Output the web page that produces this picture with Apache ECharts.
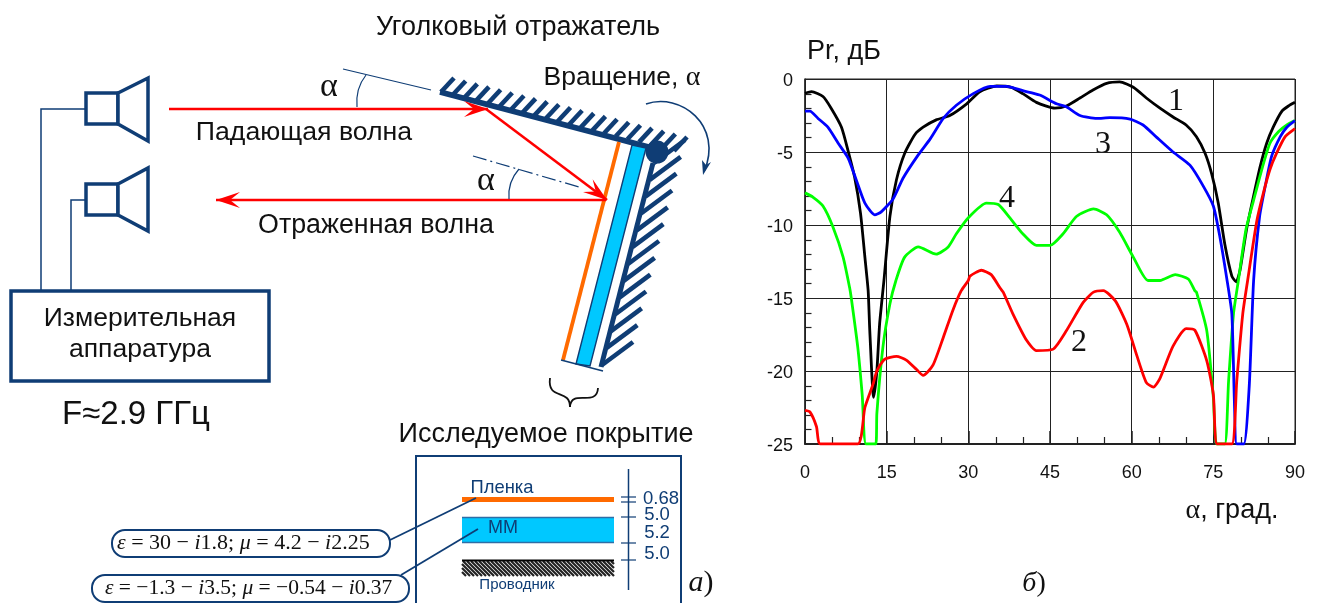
<!DOCTYPE html>
<html><head><meta charset="utf-8">
<style>html,body{margin:0;padding:0;background:#fff}#c{width:1321px;height:603px}</style>
<script src="https://cdn.jsdelivr.net/npm/echarts@6/dist/echarts.min.js"></script>
</head><body><div id="c"></div>
<script>
const xTicks=[0,15,30,45,60,75,90];
const yTicks=[0,-5,-10,-15,-20,-25];
const xMinor=[5,10,20,25,35,40,50,55,65,70,80,85];
const yMinor=[-1,-2,-3,-4,-6,-7,-8,-9,-11,-12,-13,-14,-16,-17,-18,-19,-21,-22,-23,-24];
const curve1=[[0,-0.98],[1.2,-0.87],[3.3,-1.2],[4.8,-2],[6.7,-3.3],[7.9,-4.9],[9.1,-6.7],[10.2,-9.2],[11,-12.2],[11.6,-14.5],[11.9,-17.25],[12.6,-21.8],[13.2,-20],[13.7,-16.8],[14.5,-13.8],[15.6,-9.4],[16.8,-6.9],[18.3,-5.1],[20.2,-3.8],[21.7,-3.3],[24.1,-2.8],[26.6,-2.5],[29.7,-1.7],[32.1,-0.87],[35.2,-0.48],[37.9,-0.57],[40,-1],[42.5,-1.6],[45.9,-2],[48,-1.85],[50.5,-1.3],[52.9,-0.75],[55.4,-0.3],[57.8,-0.2],[60.3,-0.57],[62.7,-1.3],[65.2,-2],[67.6,-2.6],[70,-3.15],[71.9,-3.95],[73.5,-5.1],[74.7,-6.5],[75.9,-8.5],[77.1,-11.3],[78.4,-13.5],[79.2,-13.9],[79.9,-13.1],[81.1,-10.3],[82.4,-8],[83.6,-6],[84.8,-4.4],[86,-3.3],[87.6,-2.2],[88.8,-1.85],[90,-1.6]];
const curve3=[[0,-2.2],[0.9,-2.2],[2.4,-2.7],[4.2,-3.3],[6.1,-4.4],[7.9,-5.4],[9.4,-6.9],[11,-8.5],[12.8,-9.3],[14,-9.1],[16.2,-8.2],[18,-6.8],[20.8,-5.2],[23,-4.1],[25.4,-2.7],[27.8,-1.8],[30.9,-1],[34,-0.5],[37,-0.5],[40,-0.8],[43.1,-1.1],[46.2,-1.7],[48,-1.9],[50.5,-2.5],[53.6,-2.7],[56,-2.65],[59.7,-2.75],[62.1,-3.15],[64.6,-4],[67.6,-5],[70.7,-5.9],[73.1,-7.3],[75,-8.7],[76.2,-10.8],[77.4,-13.5],[78.4,-16.1],[79.3,-25],[80.6,-25],[81.6,-21],[82.4,-13.8],[83.5,-9.4],[84.5,-7.4],[85.7,-5.3],[87.3,-3.95],[88.5,-3.3],[90,-2.85]];
const curve4=[[0,-7.8],[1.5,-8.1],[3.3,-8.7],[5.1,-10.1],[7,-12.2],[8.2,-14.3],[8.5,-15],[9.7,-18.4],[10.5,-21.6],[11.2,-25],[13,-25],[13.2,-22.9],[14.3,-18.4],[15.6,-15.4],[16.7,-13.8],[18.3,-12.2],[20.8,-11.5],[24.1,-12],[26.3,-11.5],[27.8,-10.6],[30,-9.5],[33.3,-8.5],[35.5,-8.6],[37.6,-9.5],[40,-10.6],[42.5,-11.4],[45,-11.4],[47.4,-10.6],[49.9,-9.4],[53,-8.9],[55.4,-9.3],[57.8,-10.5],[60.3,-12.2],[63,-13.8],[65.2,-13.8],[68,-13.4],[70.4,-13.7],[71.6,-14.5],[71.9,-14.6],[73.8,-17.25],[75,-21.8],[75.6,-25],[77.1,-25],[77.8,-20.7],[78.7,-16.1],[79.6,-13.8],[81,-10.3],[82.4,-8.3],[83.9,-6.2],[85.4,-4.4],[87,-3.6],[88.5,-3.15],[90,-2.85]];
const curve2=[[0,-22.7],[0.9,-22.8],[2.1,-23.8],[2.8,-25],[9.7,-25],[11,-22.5],[12.5,-20.9],[13.2,-20],[14.6,-19.2],[16.8,-19],[18.6,-19.25],[20.5,-19.9],[21.7,-20.3],[23.5,-19.6],[25.4,-17.7],[27.2,-15.8],[28.7,-14.5],[30,-13.8],[30.3,-13.5],[32.4,-13.1],[34.2,-13.4],[35.8,-14.3],[36.4,-14.6],[38.2,-16.1],[40.7,-17.9],[42.5,-18.6],[45.6,-18.5],[48,-17.25],[51.1,-15.3],[53,-14.6],[54.8,-14.5],[57,-15.2],[59.1,-16.8],[61,-19],[62.7,-20.8],[64,-21.1],[65.2,-20.5],[67.6,-18.3],[70,-17.1],[71.6,-17.2],[73.8,-19.3],[75,-21.6],[75.7,-25],[78.4,-25],[79.3,-20.7],[80.4,-16.1],[81.3,-13.8],[83,-9.7],[84.2,-7.8],[85.4,-6.2],[86.6,-5.1],[88.2,-3.95],[90,-3.4]];

const NAVY='#0f3d75', ORANGE='#ff6a00', SANS='"Liberation Sans",Arial,sans-serif', SERIF='"Liberation Serif",serif';
const g=[];
const line=(x1,y1,x2,y2,stroke,lineWidth,extra)=>g.push({type:'line',silent:true,shape:{x1,y1,x2,y2},style:Object.assign({stroke,lineWidth,fill:null},extra||{})});
const poly=(points,stroke,lineWidth,fill)=>g.push({type:fill?'polygon':'polyline',silent:true,shape:{points},style:{stroke,lineWidth,fill:fill||null}});
const rect=(x,y,width,height,stroke,lineWidth,fill,r)=>g.push({type:'rect',silent:true,shape:{x,y,width,height,r:r||0},style:{stroke,lineWidth,fill:fill||null}});
const text=(t,x,y,size,color,family,align,extra)=>g.push({type:'text',silent:true,x,y:y+1.5,style:Object.assign({text:t,fill:color||'#111',font:size+'px '+(family||SANS),textAlign:align||'center',textVerticalAlign:'middle'},extra||{})});
function arrow(x1,y1,x2,y2){
  line(x1,y1,x2,y2,'#ff0000',2.6);
  const a=Math.atan2(y2-y1,x2-x1),L=24,W=8,b=14;
  const c=Math.cos(a),s=Math.sin(a);
  g.push({type:'polygon',silent:true,shape:{points:[[x2,y2],[x2-L*c+W*s,y2-L*s-W*c],[x2-b*c,y2-b*s],[x2-L*c-W*s,y2-L*s+W*c]]},style:{fill:'#ff0000'}});
}
function hatch(x1,y1,x2,y2,n,dx,dy,lw,color){
  for(let i=0;i<=n;i++){const t=i/n,x=x1+(x2-x1)*t,y=y1+(y2-y1)*t;line(x,y,x+dx,y+dy,color,lw);}
}
for(const [top,ct,cb] of [[93,78,141],[184,168,231]]){
  rect(86,top,32,31,NAVY,3.5);
  poly([[118,top],[148,ct],[148,cb],[118,top+31]],NAVY,3.5,'#fff');
}
poly([[86,109],[41,109],[41,290]],NAVY,1.5);
poly([[86,200],[71,200],[71,290]],NAVY,1.5);
rect(11,291,258,90,NAVY,3.5);
text('Измерительная',140,317,26.5);
text('аппаратура',140,348,26.5);
text('F≈2.9 ГГц',136,413,33);
// reflector
hatch(441,92,674,151,20,13,-14,4.6,NAVY);
hatch(654,163,602,365,12,31,-23,4.6,NAVY);
line(440,92,660,150,NAVY,5.5);
line(653,163,601,367,NAVY,5);
g.push({type:'polygon',silent:true,shape:{points:[[632,145],[646,148],[590,366],[576,364]]},style:{fill:'#00c8ff',stroke:NAVY,lineWidth:1.4}});
line(619,142,563,360,ORANGE,3.8);
line(561,360,603,371,NAVY,1.6);
g.push({type:'circle',silent:true,shape:{cx:657,cy:152,r:11.5},style:{fill:NAVY}});
g.push({type:'bezierCurve',silent:true,shape:{x1:646,y1:104,cpx1:680,cpy1:92,cpx2:724,cpy2:125,x2:704,y2:172},style:{stroke:NAVY,lineWidth:1.6,fill:null}});
g.push({type:'polygon',silent:true,shape:{points:[[703,175],[702,160],[706,165],[711,162]]},style:{fill:NAVY}});
g.push({type:'bezierCurve',silent:true,shape:{x1:550,y1:378,cpx1:547,cpy1:401,cpx2:570,cpy2:388,x2:570,y2:407},style:{stroke:'#111',lineWidth:1.8,fill:null}});
g.push({type:'bezierCurve',silent:true,shape:{x1:598,y1:388,cpx1:597,cpy1:408,cpx2:571,cpy2:388,x2:570,y2:407},style:{stroke:'#111',lineWidth:1.8,fill:null}});
arrow(169,109,488,109);
arrow(486,109,607,200);
arrow(606,200,216,200);
line(343,69,431,90,NAVY,1.2);
g.push({type:'bezierCurve',silent:true,shape:{x1:366,y1:75,cpx1:358,cpy1:85,cpx2:356,cpy2:96,x2:357,y2:107},style:{stroke:NAVY,lineWidth:1.2,fill:null}});
line(473,156,579,187,NAVY,1.2,{lineDash:[14,4,2,4]});
g.push({type:'bezierCurve',silent:true,shape:{x1:519,y1:169,cpx1:511,cpy1:178,cpx2:508,cpy2:188,x2:509,y2:199},style:{stroke:NAVY,lineWidth:1.2,fill:null}});
text('α',329,86,34,'#111',SERIF);
text('α',486,180,34,'#111',SERIF);
text('Уголковый отражатель',518,26,27);
text('Падающая волна',304,131,26.7);
text('Отраженная волна',376,224,26.8);
text('Вращение, {a|α}',622,76,26.5,'#111',SANS,'center',{rich:{a:{font:'28px '+SERIF,fill:'#111'}}});
// coating inset
text('Исследуемое покрытие',546,433,27);
poly([[416,603],[416,456],[681,456],[681,603]],NAVY,2);
rect(462,497,152,5,null,0,ORANGE);
rect(462,517,152,26,null,0,'#00c8ff');
line(462,517.5,614,517.5,'#2e6ea6',1.5);
line(462,542.5,614,542.5,'#2e6ea6',1.5);
for(let x=447;x<=614;x+=4){
  const x1=Math.max(x,462), x2=Math.min(x+15,614);
  line(x1,561+(x1-x),x2,561+(x2-x),'#222',2.2);
}
line(462,560.5,614,560.5,'#000',2);
line(628.5,469,628.5,590,NAVY,1.5);
for(const y of [497,502,517,543,560]) line(621,y,636,y,NAVY,1.2);
text('0.68',661,497,18.5,NAVY);
text('5.0',657,513,18.5,NAVY);
text('5.2',657,531,18.5,NAVY);
text('5.0',657,552,18.5,NAVY);
text('Пленка',502,486,18.4,NAVY);
text('ММ',503,527,18,NAVY);
text('Проводник',517,583,15,NAVY);
rect(112,530,278,27,NAVY,2,null,13);
rect(92,575,317,27,NAVY,2,null,13);
line(390,540,476,498,NAVY,1.8);
line(401,575,478,529,NAVY,1.8);
const richA={i:{font:'italic 22px '+SERIF,fill:'#111'}}, richB={i:{font:'italic 21.5px '+SERIF,fill:'#111'}};
text('{i|ε} = 30 − {i|i}1.8; {i|μ} = 4.2 − {i|i}2.25',117,542,22,'#111',SERIF,'left',{rich:richA});
text('{i|ε} = −1.3 − {i|i}3.5; {i|μ} = −0.54 − {i|i}0.37',105,587,21.5,'#111',SERIF,'left',{rich:richB});
text('{i|a})',701,582,30,'#111',SERIF,'center',{rich:{i:{font:'italic 30px '+SERIF,fill:'#111'}}});
text('{i|б})',1034,582,28,'#111',SERIF,'center',{rich:{i:{font:'italic 28px '+SERIF,fill:'#111'}}});
// chart captions
text('Pr, дБ',844,50,27);
text('{a|α}, град.',1232,509,27,'#111',SANS,'center',{rich:{a:{font:'28px '+SERIF,fill:'#111'}}});
text('1',1176,100,32,'#111',SERIF);
text('3',1103,143,32,'#111',SERIF);
text('4',1007,197,32,'#111',SERIF);
text('2',1079,341,32,'#111',SERIF);

const mk=(name,data,color,z)=>({name,type:'line',data,z,showSymbol:false,symbol:'none',smooth:0.2,animation:false,clip:true,lineStyle:{color,width:2.8}});
const axisBase={axisLine:{show:true,onZero:false,lineStyle:{color:'#222',width:2}},
  splitLine:{show:true,lineStyle:{color:'#222',width:1}},
  axisLabel:{color:'#111',fontFamily:SANS,fontSize:18}};
const chart=echarts.init(document.getElementById('c'),null,{renderer:'canvas'});
const option={
  animation:false,
  grid:{left:805,right:26,top:79,bottom:159,show:true,borderColor:'#222',borderWidth:1,backgroundColor:'transparent'},
  xAxis:Object.assign({},axisBase,{type:'value',min:xTicks[0],max:xTicks[xTicks.length-1],interval:15,
    axisTick:{show:true,inside:true,length:13,lineStyle:{color:'#222',width:1.5}},
    axisLabel:Object.assign({},axisBase.axisLabel,{margin:20})}),
  yAxis:Object.assign({},axisBase,{type:'value',min:yTicks[yTicks.length-1],max:yTicks[0],interval:5,
    axisLine:{show:true,onZero:false,lineStyle:{color:'#222',width:1.5}},
    axisTick:{show:true,inside:true,length:11,lineStyle:{color:'#222',width:1}},
    axisLabel:Object.assign({},axisBase.axisLabel,{margin:12,verticalAlign:'top',lineHeight:5})}),
  series:[mk('1',curve1,'#000',2),mk('4',curve4,'#00ff00',3),mk('3',curve3,'#0000ff',4),mk('2',curve2,'#ff0000',5)],
  graphic:{elements:g}
};
chart.setOption(option);
// minor ticks placed through the chart's own scales
for(const v of xMinor){const [x,y]=chart.convertToPixel({gridIndex:0},[v,yTicks[yTicks.length-1]]);const X=Math.round(x)+0.5;line(X,y,X,y-7,'#222',1.2);}
for(const v of yMinor){const [x,y]=chart.convertToPixel({gridIndex:0},[xTicks[0],v]);const Y=Math.round(y)+0.5;line(x,Y,x+6.5,Y,'#222',1.2);}
chart.setOption({graphic:{elements:g}});
</script></body></html>
